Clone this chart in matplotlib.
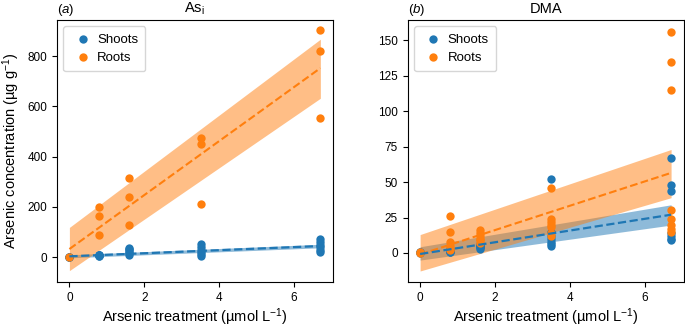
import matplotlib
matplotlib.use("Agg")
import matplotlib.pyplot as plt
from matplotlib.ticker import MultipleLocator
import numpy as np

plt.rcParams["font.family"] = ["Liberation Sans", "DejaVu Sans"]
plt.rcParams["mathtext.fontset"] = "custom"
plt.rcParams["mathtext.rm"] = "Liberation Sans"
plt.rcParams["mathtext.it"] = "Liberation Sans:italic"

# treatment levels (umol/L)
doses = [0, 0.8, 1.6, 3.5, 6.7]

# panel a, inorganic As
asi_shoots = [[0, 1, 2],
              [5, 7, 8, 10, 6, 9],
              [9, 15, 20, 28, 33, 38],
              [6, 12, 20, 30, 40, 51],
              [20, 30, 40, 50, 60, 70]]
asi_roots = [[0],
             [200, 163, 89],
             [313, 240, 127],
             [472, 449, 213],
             [905, 820, 555]]

# panel b, DMA
dma_shoots = [[0, 0.5, 1],
              [0.5, 1, 1.5, 2, 2, 3],
              [3, 4, 5, 6, 5, 4],
              [52, 15, 12, 10, 8, 6, 5],
              [67, 48, 44, 14, 12, 10, 9]]
dma_roots = [[0, 0.5],
             [26, 15, 8, 5, 3, 2],
             [16, 14, 12, 10, 9, 7],
             [46, 24, 22, 20, 18, 14, 12],
             [156, 135, 115, 30, 24, 20, 17, 15]]

# fitted line and confidence band, read at x = 0 and x = 6.7
fit_x = [0, 6.7]
asi_shoots_fit = [3, 44]
asi_shoots_lo = [-3, 37]
asi_shoots_hi = [9, 51]
asi_roots_fit = [32, 752]
asi_roots_lo = [-54, 632]
asi_roots_hi = [118, 867]

dma_shoots_fit = [-0.7, 27]
dma_shoots_lo = [-5, 19.7]
dma_shoots_hi = [4.4, 34]
dma_roots_fit = [-1, 56.5]
dma_roots_lo = [-12.7, 39]
dma_roots_hi = [13, 73]

blue = "#1f77b4"
orange = "#ff7f0e"


def flat(groups):
    xs, ys = [], []
    for d, g in zip(doses, groups):
        xs += [d] * len(g)
        ys += g
    return xs, ys


def panel(ax, shoots, roots, s_fit, s_lo, s_hi, r_fit, r_lo, r_hi):
    ax.fill_between(fit_x, s_lo, s_hi, color=blue, alpha=0.5, lw=0, zorder=1)
    ax.fill_between(fit_x, r_lo, r_hi, color=orange, alpha=0.5, lw=0, zorder=1.1)
    x, y = flat(shoots)
    ax.scatter(x, y, s=36, color=blue, label="Shoots", zorder=2, lw=0)
    x, y = flat(roots)
    ax.scatter(x, y, s=36, color=orange, label="Roots", zorder=2.1, lw=0)
    ax.plot(fit_x, r_fit, "--", color=orange, lw=1.5, zorder=3)
    ax.plot(fit_x, s_fit, "--", color=blue, lw=1.6, zorder=3.1)
    ax.tick_params(labelsize=8.5)
    ax.set_xlabel("Arsenic treatment (µmol L$^{-1}$)", fontsize=10.5, labelpad=1.5)
    ax.legend(loc="upper left", fontsize=9.5, handletextpad=0.2,
              borderpad=0.55, labelspacing=0.45, handlelength=1.8)


fig = plt.figure(figsize=(6.85, 3.27), dpi=100)
ax1 = fig.add_axes([0.083, 0.137, 0.403, 0.803])
ax2 = fig.add_axes([0.595, 0.137, 0.403, 0.803])

panel(ax1, asi_shoots, asi_roots, asi_shoots_fit, asi_shoots_lo, asi_shoots_hi,
      asi_roots_fit, asi_roots_lo, asi_roots_hi)
panel(ax2, dma_shoots, dma_roots, dma_shoots_fit, dma_shoots_lo, dma_shoots_hi,
      dma_roots_fit, dma_roots_lo, dma_roots_hi)

ax1.set_ylabel("Arsenic concentration (µg g$^{-1}$)", fontsize=10.5)
ax1.set_yticks([0, 200, 400, 600, 800])
ax2.yaxis.set_major_locator(MultipleLocator(25))
ax1.set_ylim(-100, 945)
ax2.set_ylim(-20.6, 164.6)

ax1.set_title(r"As$_{\rm i}$", fontsize=10.5, pad=5)
ax1.set_title(r"($a$)", loc="left", fontsize=9.5, pad=5)
ax2.set_title("DMA", fontsize=10.5, pad=5)
ax2.set_title(r"($b$)", loc="left", fontsize=9.5, pad=5)

fig.savefig("out.png", dpi=100)
